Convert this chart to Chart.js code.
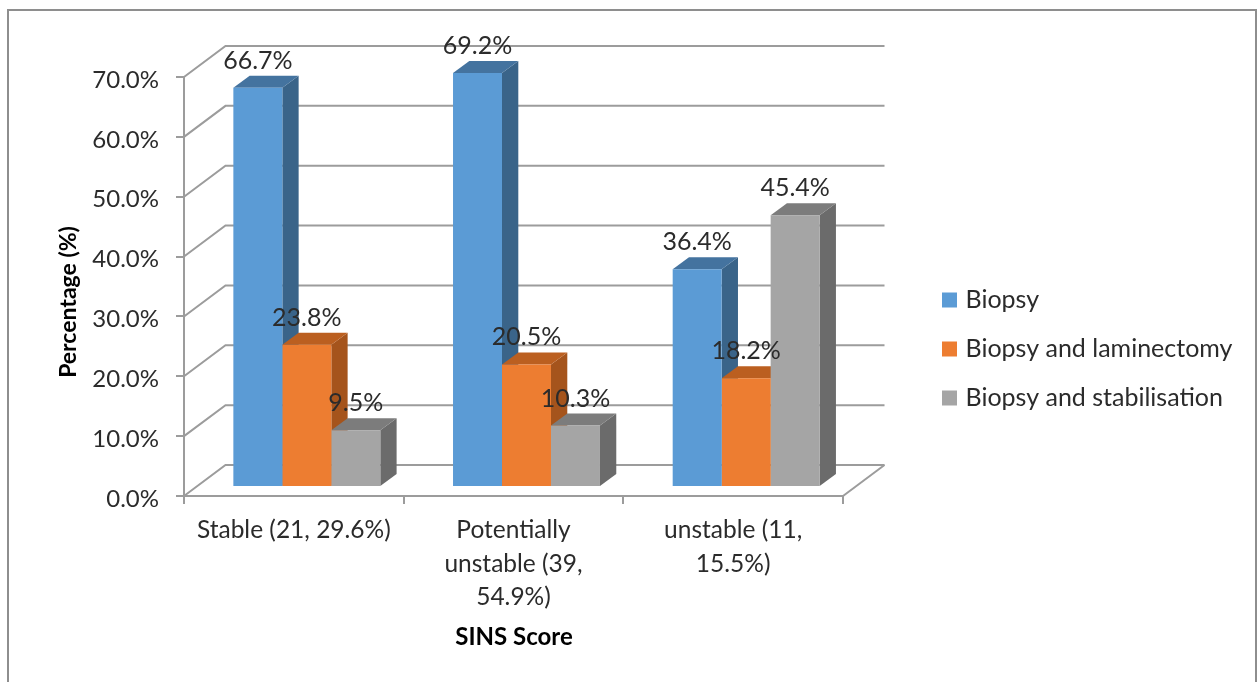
<!DOCTYPE html>
<html>
<head>
<meta charset="utf-8">
<title>SINS Score</title>
<script src="https://cdn.jsdelivr.net/npm/chart.js@4/dist/chart.umd.min.js"></script>
<style>
  html, body { margin: 0; padding: 0; background: #fff; overflow: hidden; }
  #frame { position: absolute; left: 7px; top: 9px; width: 1246px; height: 673px;
           border: solid #8e8e8e; border-width: 2px 2px 0 2px; }
  canvas { position: absolute; left: 0; top: 0; }
</style>
</head>
<body>
<div id="frame"></div>
<canvas id="chart" width="1257" height="682"></canvas>
<script>
// Categories and series
const categories = [
  ["Stable (21, 29.6%)"],
  ["Potentially", "unstable (39,", "54.9%)"],
  ["unstable (11,", "15.5%)"],
];
const seriesNames = ["Biopsy", "Biopsy and laminectomy", "Biopsy and stabilisation"];
const biopsy = [66.7, 69.2, 36.4];
const laminectomy = [23.8, 20.5, 18.2];
const stabilisation = [9.5, 10.3, 45.4];

// Face colours of the boxes: front, top, side
const frontColors = ["#5b9bd5", "#ed7d31", "#a5a5a5"];
const topColors = ["#44739f", "#bb5f20", "#7c7c7c"];
const sideColors = ["#3a6489", "#a5541c", "#6b6b6b"];

const FONT = "Lato, Carlito, sans-serif";
const TEXT_COLOR = "#2b2b2b";
const GRID_COLOR = "#9c9c9c";

// Depth of the walls and of the boxes, and where the boxes stand on the floor
const WALL_DX = 41.5, WALL_DY = -31;
const BAR_DX = 16.3, BAR_DY = -12;
const FLOOR_DX = 13, FLOOR_DY = -8.9;

function polygon(ctx, points, color) {
  ctx.fillStyle = color;
  ctx.beginPath();
  points.forEach((p, i) => (i ? ctx.lineTo(p[0], p[1]) : ctx.moveTo(p[0], p[1])));
  ctx.closePath();
  ctx.fill();
}

// Walls, floor and box faces around the plain bars
const depthPlugin = {
  id: "depth",
  afterLayout(chart) {
    // legend sits in the free space right of the plot
    const legend = chart.legend;
    legend.left = 922;
    legend.right = 1250;
    legend.top = 254;
    legend.bottom = 444;
  },
  beforeDatasetsDraw(chart) {
    const { ctx, scales: { x, y } } = chart;
    const left = x.left, right = x.right, bottom = y.bottom;
    ctx.save();
    ctx.strokeStyle = GRID_COLOR;
    ctx.lineWidth = 2;
    y.ticks.forEach((t) => {
      const py = y.getPixelForValue(t.value);
      ctx.beginPath();
      ctx.moveTo(left, py);
      ctx.lineTo(left + WALL_DX, py + WALL_DY);
      ctx.lineTo(right + WALL_DX, py + WALL_DY);
      ctx.stroke();
    });
    // front right floor edge
    ctx.beginPath();
    ctx.moveTo(right, bottom);
    ctx.lineTo(right + WALL_DX, bottom + WALL_DY);
    ctx.stroke();
    ctx.restore();

    // everything in the datasets stands back from the front plane
    ctx.save();
    ctx.translate(FLOOR_DX, FLOOR_DY);
    // side and top faces go first, series by series, the library paints the fronts over them
    chart.data.datasets.forEach((ds, i) => {
      chart.getDatasetMeta(i).data.forEach((bar) => {
        const l = bar.x - bar.width / 2, r = bar.x + bar.width / 2;
        const t = bar.y, b = bar.base;
        polygon(ctx, [[r, t], [r + BAR_DX, t + BAR_DY], [r + BAR_DX, b + BAR_DY], [r, b]], sideColors[i]);
        polygon(ctx, [[l, t], [l + BAR_DX, t + BAR_DY], [r + BAR_DX, t + BAR_DY], [r, t]], topColors[i]);
      });
    });
  },
  afterDatasetsDraw(chart) {
    const ctx = chart.ctx;
    // value labels above each box
    ctx.font = "25px " + FONT;
    ctx.fillStyle = TEXT_COLOR;
    ctx.textAlign = "center";
    ctx.textBaseline = "middle";
    chart.data.datasets.forEach((ds, i) => {
      chart.getDatasetMeta(i).data.forEach((bar, j) => {
        ctx.fillText(ds.data[j].toFixed(1) + "%", bar.x, bar.y - 27);
      });
    });
    ctx.restore();

    // axis titles
    ctx.save();
    ctx.fillStyle = "#000";
    ctx.textAlign = "center";
    ctx.textBaseline = "middle";
    ctx.font = "bold 24px " + FONT;
    ctx.fillText("SINS Score", 514, 637);
    ctx.font = "bold 23px " + FONT;
    ctx.translate(69, 302);
    ctx.rotate(-Math.PI / 2);
    ctx.fillText("Percentage (%)", 0, 0);
    ctx.restore();
  },
};

new Chart(document.getElementById("chart"), {
  type: "bar",
  plugins: [depthPlugin],
  data: {
    labels: categories,
    datasets: [biopsy, laminectomy, stabilisation].map((values, i) => ({
      label: seriesNames[i],
      data: values,
      backgroundColor: frontColors[i],
      borderColor: frontColors[i],
      borderWidth: 0,
      clip: false,
    })),
  },
  options: {
    responsive: false,
    animation: false,
    layout: { autoPadding: false, padding: { top: 77, right: 414, left: 0, bottom: 0 } },
    datasets: { bar: { categoryPercentage: 0.669, barPercentage: 1 } },
    plugins: {
      tooltip: { enabled: false },
      legend: {
        position: "chartArea",
        align: "center",
        labels: {
          font: { family: FONT, size: 25 },
          color: TEXT_COLOR,
          boxWidth: 7,
          boxHeight: 7,
          padding: 24,
          generateLabels: (c) =>
            Chart.defaults.plugins.legend.labels.generateLabels(c).map((it) => ({ ...it, lineWidth: 8 })),
        },
      },
    },
    scales: {
      x: {
        afterFit: (s) => { s.height = 186; },
        border: { color: GRID_COLOR, width: 2 },
        grid: { drawOnChartArea: false, color: GRID_COLOR, lineWidth: 2, tickLength: 8 },
        ticks: {
          autoSkip: false,
          maxRotation: 0,
          padding: 10,
          color: TEXT_COLOR,
          font: { family: FONT, size: 24.5, lineHeight: 1.35 },
        },
      },
      y: {
        min: 0,
        max: 70,
        afterFit: (s) => { s.width = 184; },
        border: { color: GRID_COLOR, width: 2 },
        grid: { drawOnChartArea: false, color: GRID_COLOR, lineWidth: 2, tickLength: 8 },
        ticks: {
          stepSize: 10,
          padding: 17,
          labelOffset: 3,
          color: TEXT_COLOR,
          font: { family: FONT, size: 24 },
          callback: (v) => v.toFixed(1) + "%",
        },
      },
    },
  },
});
</script>
</body>
</html>
